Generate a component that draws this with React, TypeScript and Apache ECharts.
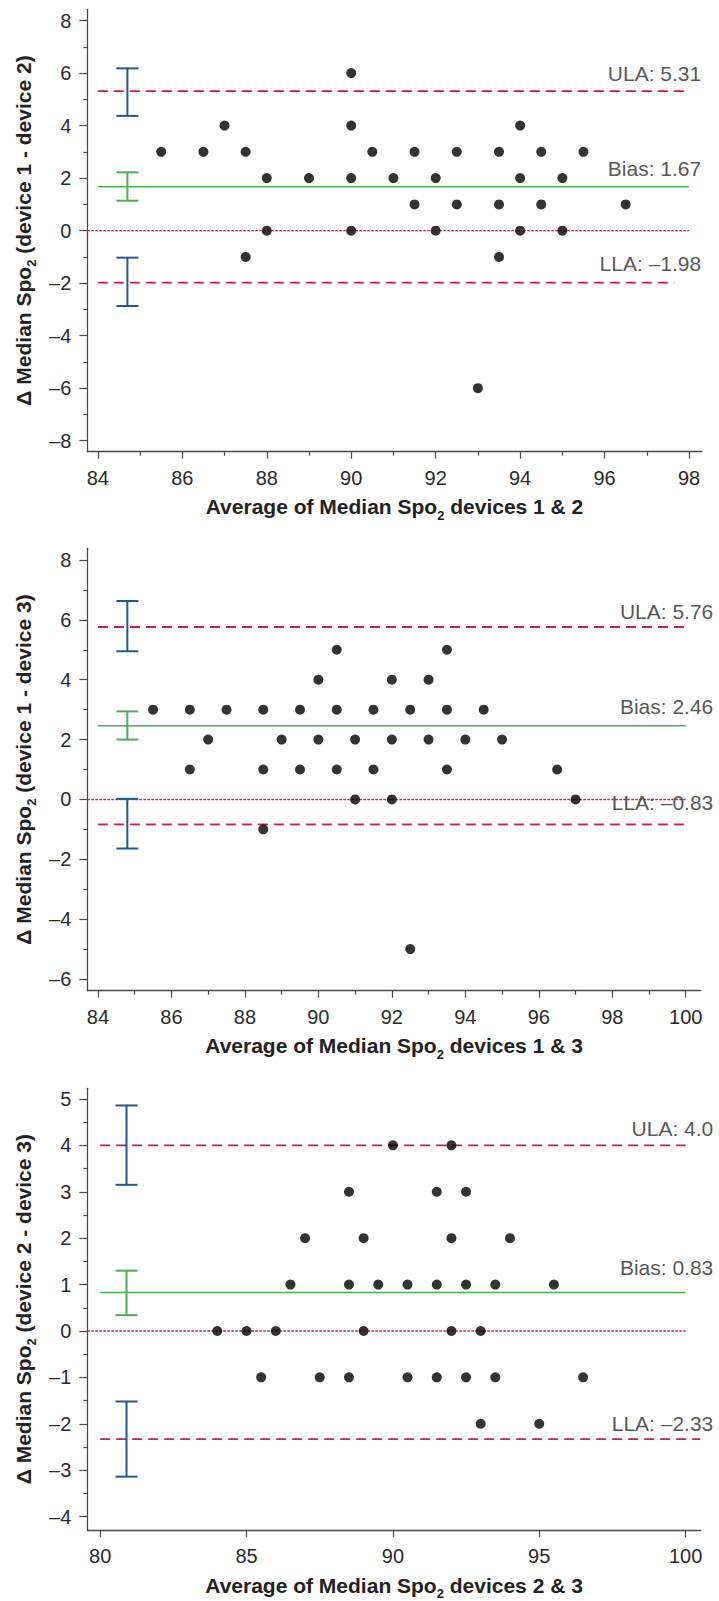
import React, { useEffect, useRef } from 'react';
import * as echarts from 'echarts';

// ---------------- DATA ----------------
// Panel 1: device 1 - device 2
const points1: number[][] = [
  [85.5, 3], [86.5, 3], [87, 4], [87.5, 3], [87.5, -1], [88, 2], [88, 0], [89, 2],
  [90, 6], [90, 4], [90, 2], [90, 0], [90.5, 3], [91, 2], [91.5, 3], [91.5, 1],
  [92, 2], [92, 0], [92.5, 3], [92.5, 1], [93, -6], [93.5, 3], [93.5, 1], [93.5, -1],
  [94, 4], [94, 2], [94, 0], [94.5, 3], [94.5, 1], [95, 2], [95, 0], [95.5, 3], [96.5, 1],
];
const limits1 = [5.31, 1.67, -1.98]; // ULA, Bias, LLA
const ci1 = [[4.37, 6.18], [1.14, 2.22], [-2.87, -1.03]];
const labels1 = ['ULA: 5.31', 'Bias: 1.67', 'LLA: –1.98'];
const xRange1 = [83.75, 98.3];
const yRange1 = [-8.42, 8.43];
const xMajor1 = [84, 86, 88, 90, 92, 94, 96, 98];
const xMinor1 = [85, 87, 89, 91, 93, 95, 97];
const yMajor1 = [-8, -6, -4, -2, 0, 2, 4, 6, 8];
const yMinor1 = [-7, -5, -3, -1, 1, 3, 5, 7];
const lineSpan1 = [84, 98, 98, 97.65]; // start, ULA end, Bias end, LLA end
const ciX1 = 84.7;

// Panel 2: device 1 - device 3
const points2: number[][] = [
  [85.5, 3], [86.5, 3], [86.5, 1], [87, 2], [87.5, 3], [88.5, 3], [88.5, 1], [88.5, -1],
  [89, 2], [89.5, 3], [89.5, 1], [90, 4], [90, 2], [90.5, 5], [90.5, 3], [90.5, 1],
  [91, 2], [91, 0], [91.5, 3], [91.5, 1], [92, 4], [92, 2], [92, 0], [92.5, 3], [92.5, -5],
  [93, 4], [93, 2], [93.5, 5], [93.5, 3], [93.5, 1], [94, 2], [94.5, 3], [95, 2], [96.5, 1], [97, 0],
];
const limits2 = [5.76, 2.46, -0.83];
const ci2 = [[4.95, 6.63], [2.0, 2.94], [-1.64, 0.02]];
const labels2 = ['ULA: 5.76', 'Bias: 2.46', 'LLA: –0.83'];
const xRange2 = [83.71, 100.41];
const yRange2 = [-6.39, 8.39];
const xMajor2 = [84, 86, 88, 90, 92, 94, 96, 98, 100];
const xMinor2 = [85, 87, 89, 91, 93, 95, 97, 99];
const yMajor2 = [-6, -4, -2, 0, 2, 4, 6, 8];
const yMinor2 = [-5, -3, -1, 1, 3, 5, 7];
const lineSpan2 = [84, 100, 100, 100];
const ciX2 = 84.8;

// Panel 3: device 2 - device 3
const points3: number[][] = [
  [84, 0], [85, 0], [85.5, -1], [86, 0], [86.5, 1], [87, 2], [87.5, -1], [88.5, 3],
  [88.5, 1], [88.5, -1], [89, 2], [89, 0], [89.5, 1], [90, 4], [90.5, 1], [90.5, -1],
  [91.5, 3], [91.5, 1], [91.5, -1], [92, 4], [92, 2], [92, 0], [92.5, 3], [92.5, 1],
  [92.5, -1], [93, 0], [93, -2], [93.5, 1], [93.5, -1], [94, 2], [95, -2], [95.5, 1], [96.5, -1],
];
const limits3 = [4.0, 0.83, -2.33];
const ci3 = [[3.15, 4.86], [0.34, 1.3], [-3.14, -1.52]];
const labels3 = ['ULA: 4.0', 'Bias: 0.83', 'LLA: –2.33'];
const xRange3 = [79.56, 100.52];
const yRange3 = [-4.29, 5.23];
const xMajor3 = [80, 85, 90, 95, 100];
const xMinor3: number[] = [];
const yMajor3 = [-4, -3, -2, -1, 0, 1, 2, 3, 4, 5];
const yMinor3 = [-3.5, -2.5, -1.5, -0.5, 0.5, 1.5, 2.5, 3.5, 4.5];
const lineSpan3 = [80, 100, 100, 100.5];
const ciX3 = 80.9;

const xTitles = ['devices 1 & 2', 'devices 1 & 3', 'devices 2 & 3'];
const yTitles = ['(device 1 - device 2)', '(device 1 - device 3)', '(device 2 - device 3)'];

// ---------------- STYLE / LAYOUT ----------------
const FONT = '"Liberation Sans", Arial, Helvetica, sans-serif';
const GRID_LEFT = 87.3;
const GRID_TOPS = [9.3, 548.3, 1088.3];
const GRID_HEIGHTS = [442.4, 442.4, 441.7];
const GRID_WIDTHS = [614.4, 613.5, 613.5];
const LABEL_DX = [0, 13, 13];
const LABEL_DY = [[18, 18, 19], [16, 19, 22], [17, 25, 16]];
const AXIS_COLOR = '#4a4a4a';
const TEXT_COLOR = '#2a2a2a';
const CRIMSON = '#d3175a';
const GREEN = '#4cae4c';
const BLUE = '#1b5a8e';
const CI_COLORS = [BLUE, GREEN, BLUE];

const fmt = (v: number) => String(v).replace('-', '–');

const titleRich = {
  m: { fontSize: 21, fontWeight: 'bold', color: '#222', fontFamily: FONT, lineHeight: 30 },
  s: { fontSize: 13, fontWeight: 'bold', color: '#222', fontFamily: FONT, lineHeight: 30, verticalAlign: 'bottom' },
};

const panels = [
  { points: points1, limits: limits1, ci: ci1, labels: labels1, xRange: xRange1, yRange: yRange1, xMajor: xMajor1, xMinor: xMinor1, yMajor: yMajor1, yMinor: yMinor1, span: lineSpan1, ciX: ciX1 },
  { points: points2, limits: limits2, ci: ci2, labels: labels2, xRange: xRange2, yRange: yRange2, xMajor: xMajor2, xMinor: xMinor2, yMajor: yMajor2, yMinor: yMinor2, span: lineSpan2, ciX: ciX2 },
  { points: points3, limits: limits3, ci: ci3, labels: labels3, xRange: xRange3, yRange: yRange3, xMajor: xMajor3, xMinor: xMinor3, yMajor: yMajor3, yMinor: yMinor3, span: lineSpan3, ciX: ciX3 },
];

function buildOption() {
  const grid: any[] = [];
  const xAxis: any[] = [];
  const yAxis: any[] = [];
  const series: any[] = [];

  panels.forEach((p, i) => {
    grid.push({
      left: GRID_LEFT,
      top: GRID_TOPS[i],
      width: GRID_WIDTHS[i],
      height: GRID_HEIGHTS[i],
      containLabel: false,
      outerBoundsMode: 'none',
    });
    const xi = 2 * i;
    // major x axis
    xAxis.push({
      type: 'value', gridIndex: i, position: 'bottom', min: p.xRange[0], max: p.xRange[1],
      axisLine: { show: true, onZero: false, lineStyle: { color: AXIS_COLOR, width: 1.3 } },
      axisTick: { show: true, length: 7, customValues: p.xMajor, lineStyle: { color: AXIS_COLOR, width: 1.2 } },
      axisLabel: { show: true, customValues: p.xMajor, formatter: fmt, fontSize: 20, color: TEXT_COLOR, fontFamily: FONT, margin: 16 },
      splitLine: { show: false },
      name: `{m|Average of Median Spo}{s|2}{m| ${xTitles[i]}}`,
      nameLocation: 'middle', nameGap: 40,
      nameTextStyle: { rich: titleRich },
    });
    // minor x axis
    xAxis.push({
      type: 'value', gridIndex: i, position: 'bottom', min: p.xRange[0], max: p.xRange[1],
      axisLine: { show: false, onZero: false },
      axisTick: { show: p.xMinor.length > 0, length: 4, customValues: p.xMinor.length ? p.xMinor : [p.xMajor[0]], lineStyle: { color: AXIS_COLOR, width: 1.2 } },
      axisLabel: { show: false },
      splitLine: { show: false },
    });
    // major y axis
    yAxis.push({
      type: 'value', gridIndex: i, position: 'left', min: p.yRange[0], max: p.yRange[1],
      axisLine: { show: true, onZero: false, lineStyle: { color: AXIS_COLOR, width: 1.3 } },
      axisTick: { show: true, length: 8, customValues: p.yMajor, lineStyle: { color: AXIS_COLOR, width: 1.2 } },
      axisLabel: { show: true, customValues: p.yMajor, formatter: fmt, fontSize: 20, color: TEXT_COLOR, fontFamily: FONT, margin: 16 },
      splitLine: { show: false },
      name: `{m|Δ Median Spo}{s|2}{m| ${yTitles[i]}}`,
      nameLocation: 'middle', nameGap: 47,
      nameTextStyle: { rich: titleRich },
    });
    // minor y axis
    yAxis.push({
      type: 'value', gridIndex: i, position: 'left', min: p.yRange[0], max: p.yRange[1],
      axisLine: { show: false, onZero: false },
      axisTick: { show: true, length: 4, customValues: p.yMinor, lineStyle: { color: AXIS_COLOR, width: 1.2 } },
      axisLabel: { show: false },
      splitLine: { show: false },
    });

    const axes = { xAxisIndex: xi, yAxisIndex: xi };
    const start = p.span[0];

    // zero reference line
    series.push({
      type: 'line', ...axes, silent: true, symbol: 'none', z: 2,
      data: [[p.xRange[0], 0], [p.span[1], 0]],
      lineStyle: { color: CRIMSON, width: 1.4, type: [2.5, 1.5] },
    });
    // ULA / Bias / LLA lines
    p.limits.forEach((v, k) => {
      series.push({
        type: 'line', ...axes, silent: true, symbol: 'none', z: 2,
        data: [[start, v], [p.span[k + 1], v]],
        lineStyle: k === 1
          ? { color: GREEN, width: 1.6, type: 'solid' }
          : { color: CRIMSON, width: 1.8, type: [10, 6] },
      });
    });
    // confidence interval error bars
    series.push({
      type: 'custom', ...axes, silent: true, z: 3,
      encode: { x: 0, y: [1, 2] },
      data: p.ci.map((c, k) => [p.ciX, c[0], c[1], k]),
      renderItem: (params: any, api: any) => {
        const x = api.value(0);
        const lo = api.value(1);
        const hi = api.value(2);
        const k = api.value(3);
        const top = api.coord([x, hi]);
        const bot = api.coord([x, lo]);
        const st = { stroke: CI_COLORS[k], lineWidth: 2 };
        const w = 11;
        return {
          type: 'group',
          children: [
            { type: 'line', shape: { x1: top[0], y1: top[1], x2: bot[0], y2: bot[1] }, style: st },
            { type: 'line', shape: { x1: top[0] - w, y1: top[1], x2: top[0] + w, y2: top[1] }, style: st },
            { type: 'line', shape: { x1: bot[0] - w, y1: bot[1], x2: bot[0] + w, y2: bot[1] }, style: st },
          ],
        };
      },
    });
    // data points
    series.push({
      type: 'scatter', ...axes, silent: true, z: 5,
      symbol: 'circle', symbolSize: 10,
      itemStyle: { color: '#000000' },
      data: p.points,
    });
    // limit labels
    series.push({
      type: 'scatter', ...axes, silent: true, z: 6, clip: false,
      symbolSize: 1, itemStyle: { color: 'rgba(0,0,0,0)' },
      data: p.limits.map((v, k) => ({
        value: [p.xRange[1], v],
        label: {
          show: true, position: 'left', distance: 0,
          formatter: p.labels[k],
          offset: [LABEL_DX[i], -LABEL_DY[i][k]],
          fontSize: 21, color: TEXT_COLOR, fontFamily: FONT,
        },
      })),
    });
  });

  return {
    animation: false,
    backgroundColor: '#ffffff',
    textStyle: { fontFamily: FONT },
    grid, xAxis, yAxis, series,
  };
}

export default function App() {
  const ref = useRef<HTMLDivElement>(null);
  useEffect(() => {
    if (!ref.current) return;
    const chart = echarts.init(ref.current, null, { renderer: 'svg' });
    chart.setOption(buildOption() as any);
    return () => chart.dispose();
  }, []);
  return (
    <div
      ref={ref}
      style={{ position: 'absolute', left: 0, top: 0, width: 719, height: 1601, background: '#fff' }}
    />
  );
}
